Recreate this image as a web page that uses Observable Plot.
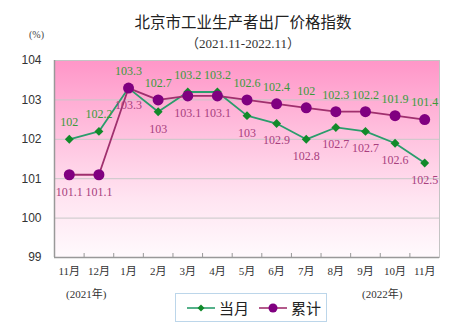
<!DOCTYPE html>
<html><head><meta charset="utf-8">
<script src="https://cdn.jsdelivr.net/npm/d3@7"></script>
<script src="https://cdn.jsdelivr.net/npm/@observablehq/plot@0.6"></script>
<style>
body{margin:0;background:#fff;}
#wrap{position:relative;width:466px;height:328px;overflow:hidden;font-family:"Liberation Serif","Noto Sans CJK SC",serif;color:#222;}
.abs{position:absolute;white-space:nowrap;}
</style></head>
<body><div id="wrap"></div>
<script>
const months = ["11月","12月","1月","2月","3月","4月","5月","6月","7月","8月","9月","10月","11月"];
const monthly = [102, 102.2, 103.3, 102.7, 103.2, 103.2, 102.6, 102.4, 102.0, 102.3, 102.2, 101.9, 101.4];
const cumulative = [101.1, 101.1, 103.3, 103.0, 103.1, 103.1, 103.0, 102.9, 102.8, 102.7, 102.7, 102.6, 102.5];
const yTicks = [99, 100, 101, 102, 103, 104];
const gridTicks = [100, 101, 102, 103];
const seriesNames = ["当月", "累计"];
const title = "北京市工业生产者出厂价格指数";
const subtitle = "（2021.11-2022.11）";
const yUnit = "(%)";
const yearNotes = ["(2021年)", "(2022年)"];

const idx = d3.range(months.length);
const boundaries = d3.range(0.5, months.length - 1, 1);
const W = 466, H = 328, mT = 60, mB = 71, mL = 54, mR = 27;
const innerH = H - mT - mB;

const greenLine = "#2a9d6c", greenDot = "#118a2a", greenText = "#3a9a3a";
const purpleLine = "#a0306e", purpleDot = "#800080", purpleText = "#a8407e";

// labels: 当月 above the higher of the two points, 累计 below the lower one
const hi = i => Math.max(monthly[i], cumulative[i]);
const lo = i => Math.min(monthly[i], cumulative[i]);

const plot = Plot.plot({
  width: W, height: H,
  marginTop: mT, marginBottom: mB, marginLeft: mL, marginRight: mR,
  style: {fontFamily: '"Liberation Serif","Noto Sans CJK SC",serif', fontSize: "11px", color: "#333", background: "transparent"},
  x: {type: "linear", domain: [-0.5, months.length - 0.5]},
  y: {domain: [99, 104]},
  marks: [
    Plot.frame({fill: "url(#bgGrad)", stroke: null}),
    Plot.ruleY(gridTicks, {stroke: "#c8c8c8", strokeWidth: 1}),
    Plot.frame({stroke: "#c4c4c4"}),
    Plot.ruleX([-0.5], {stroke: "#999", strokeWidth: 1.5}),
    Plot.ruleY([99], {stroke: "#999", strokeWidth: 1.5}),
    Plot.ruleX(boundaries, {x: d => d, insetTop: innerH - 4, stroke: "#999"}),
    Plot.axisY({ticks: yTicks, tickFormat: d => String(d), tickSize: 0, tickPadding: 13, label: null, fontSize: 12, fontFamily: '"Liberation Sans",sans-serif', fill: "#333"}),
    Plot.axisX({ticks: idx, tickFormat: i => months[i], tickSize: 0, tickPadding: 10, label: null, fontSize: 11, fill: "#333"}),
    Plot.line(idx, {x: d => d, y: d => monthly[d], stroke: greenLine, strokeWidth: 1.8}),
    Plot.dot(idx, {x: d => d, y: d => monthly[d], symbol: "diamond2", r: 4, fill: greenDot, stroke: null}),
    Plot.line(idx, {x: d => d, y: d => cumulative[d], stroke: purpleLine, strokeWidth: 1.8}),
    Plot.dot(idx, {x: d => d, y: d => cumulative[d], r: 5.5, fill: purpleDot, stroke: null}),
    Plot.text(idx, {x: d => d, y: hi, text: d => String(monthly[d]), dy: -17, fill: greenText, fontSize: 12}),
    Plot.text(idx, {x: d => d, y: lo, text: d => String(cumulative[d]), dy: 17, fill: purpleText, fontSize: 12})
  ]
});

const ns = "http://www.w3.org/2000/svg";
const defs = document.createElementNS(ns, "defs");
defs.innerHTML = '<linearGradient id="bgGrad" x1="0" y1="0" x2="0" y2="1">' +
  '<stop offset="0" stop-color="#ff96c8"/>' +
  '<stop offset="0.35" stop-color="#ffbedd"/>' +
  '<stop offset="0.7" stop-color="#ffe4f1"/>' +
  '<stop offset="1" stop-color="#fffafd"/></linearGradient>';
plot.insertBefore(defs, plot.firstChild);

const wrap = document.getElementById("wrap");
wrap.appendChild(plot);

function addText(txt, css) {
  const d = document.createElement("div");
  d.className = "abs";
  d.textContent = txt;
  d.style.cssText += css;
  wrap.appendChild(d);
  return d;
}
addText(title, "left:0;width:486px;text-align:center;top:10px;font-size:15.5px;font-family:'Noto Sans CJK SC',sans-serif;color:#222;");
addText(subtitle, "left:0;width:486px;text-align:center;top:33px;font-size:13px;color:#333;");
addText(yUnit, "left:29px;top:29px;font-size:10px;color:#444;");
addText(yearNotes[0], "left:66px;top:285px;font-size:11px;color:#333;");
addText(yearNotes[1], "left:362px;top:285px;font-size:11px;color:#333;");

const leg = document.createElement("div");
leg.className = "abs";
leg.style.cssText = "left:175px;top:293px;width:150px;height:27px;border:1px solid #bcd6ea;background:#fff;display:flex;align-items:center;font-family:'Noto Sans CJK SC',sans-serif;font-size:15px;color:#222;";
const items = [
  {name: seriesNames[0], line: greenLine, dot: greenDot, sym: "diamond"},
  {name: seriesNames[1], line: purpleLine, dot: purpleDot, sym: "circle"}
];
items.forEach((it, i) => {
  const s = document.createElementNS(ns, "svg");
  s.setAttribute("width", 28); s.setAttribute("height", 12);
  s.style.marginLeft = i === 0 ? "11px" : "10px";
  s.style.marginRight = "4px";
  let m = it.sym === "circle"
    ? `<circle cx="14" cy="6" r="4.5" fill="${it.dot}"/>`
    : `<path d="M14,2.5L17.5,6L14,9.5L10.5,6Z" fill="${it.dot}"/>`;
  s.innerHTML = `<line x1="0" x2="28" y1="6" y2="6" stroke="${it.line}" stroke-width="1.6"/>` + m;
  leg.appendChild(s);
  const t = document.createElement("span");
  t.textContent = it.name;
  leg.appendChild(t);
});
wrap.appendChild(leg);
</script></body></html>
